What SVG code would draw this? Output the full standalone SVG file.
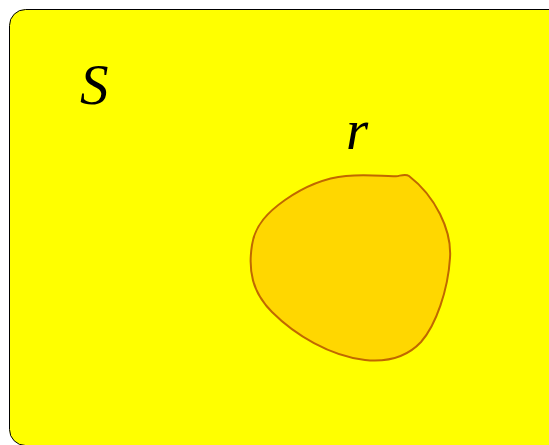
<svg xmlns="http://www.w3.org/2000/svg" width="549" height="445" viewBox="0 0 549 445">
<style>
.lbl{font-family:"Liberation Serif","Times New Roman",serif;font-style:italic;font-size:57px;fill:#000}
</style>
<rect width="549" height="445" fill="#fff"/>
<g id="S-set">
<rect x="9.5" y="9.5" width="560" height="436" rx="16" fill="#ffff00" stroke="#000" stroke-width="1"/>
<text class="lbl" x="80" y="104">S</text>
</g>
<g id="r-set">
<path d="M346,176 C370,174 388,177 398,176 C403,175 406,174 409,176 C435,196 452,230 450,258 C448,290 436,325 421,342 C406,358 385,362 365,360 C330,356 295,335 272,312 C252,292 248,270 252,245 C255,225 268,212 285,200 C305,186 325,178 346,176 Z" fill="#ffd700" stroke="#c06800" stroke-width="2"/>
<text class="lbl" x="346" y="149">r</text>
</g>
</svg>
